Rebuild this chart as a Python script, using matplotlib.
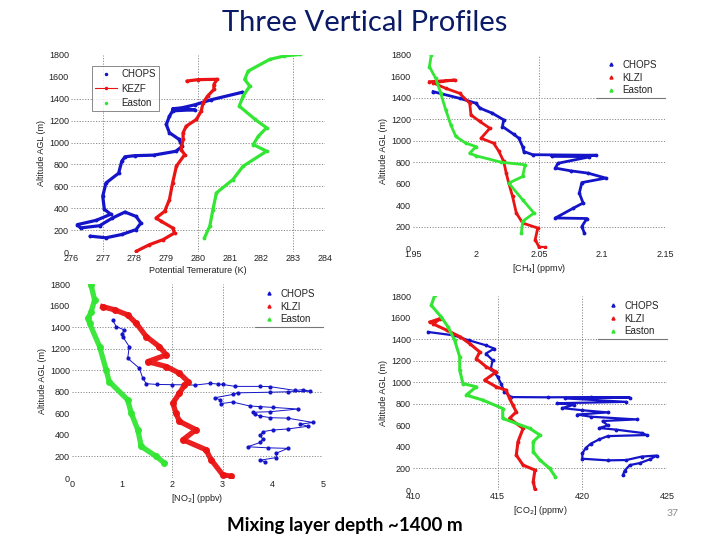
import matplotlib
matplotlib.use("Agg")
import matplotlib.pyplot as plt
from matplotlib.lines import Line2D

# ---------------- data ----------------
# Panel 1: potential temperature (K)
th_chops_x = [281.4, 280.4, 279.9, 279.5, 279.2, 279.9, 279.2, 279.1, 279.0, 279.1, 279.4, 279.5, 279.3,
              278.6, 278.0, 277.7, 277.6, 277.5, 277.1, 277.0, 277.05, 277.25, 276.8, 276.2, 276.3,
              276.9, 277.3, 277.7, 278.05, 278.2, 278.05, 277.6, 277.1, 276.6]
th_chops_y = [1460, 1390, 1345, 1318, 1308, 1300, 1290, 1240, 1165, 1090, 1030, 965, 920,
              885, 880, 870, 830, 720, 630, 510, 390, 345, 290, 250, 220,
              240, 310, 365, 325, 265, 205, 160, 130, 145]
th_kezf_x = [279.65, 280.0, 280.6, 280.5, 280.5, 280.3, 280.16, 280.1, 279.95, 279.63, 279.53, 279.53,
             279.47, 279.58, 279.32, 279.2, 279.1, 278.95, 278.68, 278.84, 279.2, 279.26, 278.9, 278.47, 278.05]
th_kezf_y = [1562, 1575, 1578, 1530, 1485, 1424, 1363, 1287, 1211, 1150, 1089, 1028,
             936, 890, 784, 631, 479, 372, 311, 281, 220, 174, 113, 67, 6]
th_easton_x = [283.2, 282.7, 282.26, 281.58, 281.47, 281.63, 281.42, 281.3, 281.8, 282.16, 281.9,
               281.74, 282.16, 281.42, 281.1, 280.58, 280.47, 280.37, 280.2]
th_easton_y = [1805, 1790, 1760, 1653, 1577, 1516, 1424, 1333, 1211, 1135, 1058,
               982, 921, 784, 662, 540, 387, 235, 128]

# Panel 2: CH4 (ppmv)
ch4_chops_x = [1.966, 1.987, 2.000, 2.003, 2.013, 2.022, 2.021, 2.030, 2.034, 2.037, 2.038, 2.045,
               2.095, 2.060, 2.090, 2.065, 2.063, 2.075, 2.089, 2.103, 2.084, 2.082, 2.085, 2.077,
               2.063, 2.088, 2.084, 2.086]
ch4_chops_y = [1458, 1396, 1350, 1305, 1257, 1195, 1133, 1060, 1024, 946, 900, 870,
               865, 858, 850, 790, 745, 720, 698, 652, 610, 512, 420, 370,
               280, 275, 200, 140]
ch4_klzi_x = [1.963, 1.983, 1.966, 1.976, 1.987, 1.995, 1.996, 2.003, 2.011, 2.004, 2.014, 2.018,
              2.022, 2.024, 2.026, 2.029, 2.032, 2.037, 2.049, 2.047, 2.050, 2.055]
ch4_klzi_y = [1551, 1567, 1540, 1489, 1443, 1350, 1241, 1180, 1117, 1024, 977, 905,
              807, 698, 605, 481, 326, 233, 186, 78, 10, 5]
ch4_easton_x = [1.9645, 1.963, 1.968, 1.972, 1.976, 1.980, 1.984, 1.992, 2.000, 1.995, 2.000, 2.020,
                2.039, 2.037, 2.026, 2.037, 2.046, 2.037, 2.036]
ch4_easton_y = [1800, 1691, 1583, 1443, 1288, 1148, 1040, 977, 946, 884, 860, 800,
                776, 667, 605, 450, 326, 248, 140]

# Panel 3: NO2 (ppbv)
no2_chops_x = [0.81, 0.88, 1.04, 1.00, 1.01, 1.14, 1.11, 1.34, 1.41, 1.48, 1.70, 2.00, 2.25, 2.45,
               2.75, 2.90, 3.00, 3.25, 3.74, 3.94, 4.45, 4.60, 4.75, 4.30, 3.94, 3.30, 3.20, 2.85,
               2.95, 2.97, 3.20, 3.54, 3.75, 4.00, 4.50, 3.95, 3.60, 3.65, 3.75, 3.95, 4.30, 4.80,
               4.55, 4.70, 4.30, 4.00, 3.80, 3.75, 3.80, 3.75, 3.50, 3.90, 4.30, 4.07, 4.07, 3.75, 3.85]
no2_chops_y = [1466, 1405, 1374, 1340, 1312, 1219, 1111, 1019, 926, 875, 868, 866, 864, 862,
               878, 872, 868, 850, 850, 848, 812, 820, 805, 800, 796, 790, 775, 745,
               725, 690, 705, 668, 662, 655, 640, 615, 610, 590, 575, 560, 555, 515,
               500, 480, 455, 445, 430, 395, 360, 330, 290, 280, 275, 230, 190, 165, 150]
no2_klzi_x = [0.61, 0.85, 1.11, 1.28, 1.48, 1.74, 1.88, 1.51, 1.88, 2.14, 2.31, 2.24, 2.14, 2.01,
              2.07, 2.14, 2.47, 2.21, 2.67, 2.77, 3.0, 3.17]
no2_klzi_y = [1590, 1560, 1513, 1435, 1312, 1219, 1142, 1080, 1034, 972, 895, 860, 787, 695,
              602, 525, 448, 355, 262, 170, 31, 15]
no2_easton_x = [0.38, 0.45, 0.38, 0.32, 0.35, 0.55, 0.68, 0.74, 1.11, 1.18, 1.31, 1.38, 1.68, 1.84]
no2_easton_y = [1790, 1652, 1540, 1480, 1435, 1219, 1003, 895, 725, 602, 448, 293, 200, 139]

# Panel 4: CO2 (ppmv)
co2_chops_x = [410.9, 412.4, 413.3, 414.3, 414.8, 414.3, 414.7, 414.6, 415.0, 415.2, 415.4, 415.8,
               418.0, 420.5, 422.8, 419.0, 422.6, 418.5, 419.5, 418.8, 420.0, 421.5, 419.7, 420.5,
               423.2, 421.2, 421.5, 421.0, 422.0, 423.5, 423.8, 421.5, 421.0, 420.5, 420.2, 420.0,
               420.0, 421.5, 422.6, 423.5, 424.4, 424.0, 423.4, 422.8, 422.5, 422.4]
co2_chops_y = [1466, 1435, 1389, 1343, 1312, 1266, 1204, 1127, 1050, 988, 910, 862,
               860, 862, 858, 850, 818, 805, 790, 760, 740, 720, 700, 680,
               655, 640, 600, 575, 560, 530, 510, 500, 470, 430, 390, 340,
               290, 275, 278, 310, 320, 285, 250, 231, 180, 139]
co2_klzi_x = [411.0, 411.6, 411.2, 412.0, 412.8, 413.35, 413.94, 413.74, 414.33, 414.92, 414.23,
              414.92, 415.5, 415.7, 415.9, 416.1, 415.7, 416.5, 416.2, 416.1, 416.5, 417.2, 417.1, 417.2]
co2_klzi_y = [1559, 1590, 1540, 1482, 1420, 1358, 1281, 1219, 1142, 1096, 1019,
              957, 926, 849, 787, 725, 664, 571, 448, 324, 231, 185, 77, 9]
co2_easton_x = [411.28, 411.08, 411.67, 412.07, 412.46, 412.76, 412.76, 412.95, 413.74, 413.25,
                413.15, 414.13, 415.3, 415.3, 416.9, 417.5, 417.1, 417.1, 417.5, 418.07, 418.4]
co2_easton_y = [1806, 1713, 1605, 1513, 1389, 1235, 1111, 988, 957, 895,
                880, 834, 756, 664, 571, 509, 448, 355, 278, 200, 124]

series_names = ["CHOPS", "KLZI", "Easton"]
series_names_p1 = ["CHOPS", "KEZF", "Easton"]
alt_ticks = [0, 200, 400, 600, 800, 1000, 1200, 1400, 1600, 1800]
th_ticks = [276, 277, 278, 279, 280, 281, 282, 283, 284]
ch4_ticks = [1.95, 2.0, 2.05, 2.1, 2.15]
ch4_ticklabels = ["1.95", "2", "2.05", "2.1", "2.15"]
no2_ticks = [0, 1, 2, 3, 4, 5]
co2_ticks = [410, 415, 420, 425]

# ---------------- style ----------------
BLUE = "#1414c8"
RED = "#ea1414"
GREEN = "#33e633"
TXT = "#222222"
GRID = "#8a8a8a"
FONT = ["Liberation Sans", "DejaVu Sans"]
plt.rcParams["font.family"] = FONT

fig = plt.figure(figsize=(7.2, 5.4), dpi=100)
fig.patch.set_facecolor("white")

pos = {
    1: [71 / 720, (540 - 252) / 540, 254 / 720, 197 / 540],
    2: [413 / 720, (540 - 248) / 540, 252 / 720, 193 / 540],
    3: [72 / 720, (540 - 478) / 540, 251 / 720, 194 / 540],
    4: [413 / 720, (540 - 490) / 540, 254 / 720, 194 / 540],
}


def setup(ax, xlim, xticks, xticklabels, gridx, gridy, xlabel):
    ax.set_xlim(*xlim)
    ax.set_ylim(0, 1800)
    ax.set_xticks(xticks)
    ax.set_xticklabels(xticklabels if xticklabels else [str(t) for t in xticks])
    ax.set_yticks(alt_ticks)
    gstyle = dict(color=GRID, linestyle=(0, (1.2, 1.6)), linewidth=0.7, zorder=0)
    for gx in gridx:
        ax.axvline(gx, **gstyle)
    for gy in gridy:
        ax.axhline(gy, **gstyle)
    ax.tick_params(which="both", length=0, labelsize=6.5, labelcolor=TXT, pad=1.5)
    for s in ax.spines.values():
        s.set_visible(False)
    ax.set_xlabel(xlabel, fontsize=6.5, color=TXT, labelpad=2)
    ax.set_ylabel("Altitude AGL (m)", fontsize=6.5, color=TXT, labelpad=2)


def profiles(ax, data, styles):
    for (x, y), st in zip(data, styles):
        ax.plot(x, y, zorder=2, **st)


dense = [
    dict(color=BLUE, lw=2.3, marker=".", ms=3.5, solid_capstyle="round"),
    dict(color=RED, lw=2.3, marker=".", ms=3.5, solid_capstyle="round"),
    dict(color=GREEN, lw=2.3, marker=".", ms=3.5, solid_capstyle="round"),
]

# Panel 1
ax1 = fig.add_axes(pos[1])
setup(ax1, (276, 284), th_ticks, None, [277, 280, 283],
      [200, 400, 600, 800, 1000, 1200, 1400], "Potential Temerature (K)")
profiles(ax1, [(th_chops_x, th_chops_y), (th_kezf_x, th_kezf_y), (th_easton_x, th_easton_y)], dense)
h1 = [Line2D([], [], color=BLUE, ls="none", marker=".", ms=3),
      Line2D([], [], color=RED, lw=0.8, marker=".", ms=3),
      Line2D([], [], color=GREEN, ls="none", marker=".", ms=3)]
leg = ax1.legend(h1, series_names_p1, loc="upper left", bbox_to_anchor=(0.063, 0.97),
                 fontsize=7, frameon=True, fancybox=False, handlelength=2.2,
                 handletextpad=0.5, borderpad=0.35, labelspacing=0.45)
leg.get_frame().set_edgecolor("#555555")
leg.get_frame().set_linewidth(0.6)
leg.set_zorder(5)
for t in leg.get_texts():
    t.set_color(TXT)

# Panel 2
ax2 = fig.add_axes(pos[2])
setup(ax2, (1.95, 2.15), ch4_ticks, ch4_ticklabels, [2.05],
      [200, 800, 1000, 1200, 1400], "[CH$_4$] (ppmv)")
profiles(ax2, [(ch4_chops_x, ch4_chops_y), (ch4_klzi_x, ch4_klzi_y), (ch4_easton_x, ch4_easton_y)],
         [dict(color=BLUE, lw=2.0, marker=".", ms=3.5),
          dict(color=RED, lw=2.0, marker=".", ms=3.5),
          dict(color=GREEN, lw=2.0, marker=".", ms=3.5)])

# Panel 3
ax3 = fig.add_axes(pos[3])
setup(ax3, (0, 5), no2_ticks, None, [2, 3],
      [200, 800, 1000, 1200, 1400], "[NO$_2$] (ppbv)")
profiles(ax3, [(no2_chops_x, no2_chops_y), (no2_klzi_x, no2_klzi_y), (no2_easton_x, no2_easton_y)],
         [dict(color=BLUE, lw=0.7, marker=".", ms=4),
          dict(color=RED, lw=3.8, marker="o", ms=4, alpha=0.95),
          dict(color=GREEN, lw=3.8, marker="o", ms=4, alpha=0.95)])

# Panel 4
ax4 = fig.add_axes(pos[4])
setup(ax4, (410, 425), co2_ticks, None, [415, 420],
      [200, 800, 1000, 1200, 1400], "[CO$_2$] (ppmv)")
profiles(ax4, [(co2_chops_x, co2_chops_y), (co2_klzi_x, co2_klzi_y), (co2_easton_x, co2_easton_y)],
         [dict(color=BLUE, lw=1.6, marker=".", ms=3.5),
          dict(color=RED, lw=2.2, marker=".", ms=3.5),
          dict(color=GREEN, lw=2.2, marker=".", ms=3.5)])

# legends for panels 2-4
for ax in (ax2, ax3, ax4):
    hs = [Line2D([], [], color=c, ls="none", marker="^", ms=2.2) for c in (BLUE, RED, GREEN)]
    lg = ax.legend(hs, series_names, loc="upper right", bbox_to_anchor=(1.0, 1.015),
                   fontsize=7, frameon=False, handlelength=1.2, handletextpad=0.6,
                   labelspacing=0.28, borderpad=0.3)
    for t in lg.get_texts():
        t.set_color(TXT)
    ax.plot([0.73, 1.0], [0.779, 0.779], transform=ax.transAxes, color="#777777", lw=0.8,
            clip_on=False, zorder=3)

# slide texts
fig.text(0.507, 0.958, "Three Vertical Profiles", ha="center", va="center",
         fontsize=21, color="#0a1a66", family=["Lato", "DejaVu Sans"])
fig.text(0.479, 0.027, "Mixing layer depth ~1400 m", ha="center", va="center",
         fontsize=13.5, fontweight="bold", color="black", family=["Lato", "DejaVu Sans"])
fig.text(0.934, 0.05, "37", ha="center", va="center", fontsize=7.5, color="#8c8c8c",
         family=["Lato", "DejaVu Sans"])

fig.savefig("out.png", dpi=100, facecolor="white")
